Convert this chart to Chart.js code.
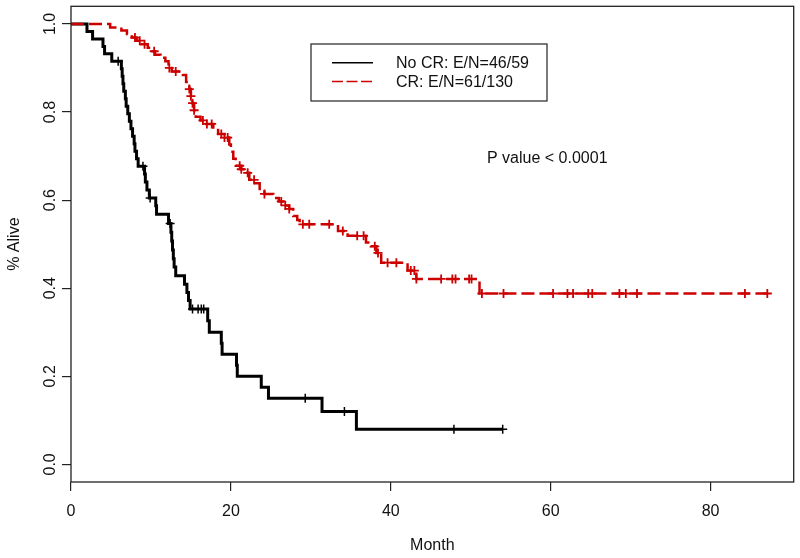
<!DOCTYPE html>
<html>
<head>
<meta charset="utf-8">
<script src="https://cdn.jsdelivr.net/npm/chart.js@4.4.1/dist/chart.umd.min.js"></script>
<style>
  html, body { margin: 0; padding: 0; background: #fff; }
  #km { display: block; }
</style>
</head>
<body>
<canvas id="km" width="800" height="558"></canvas>
<script>
// No CR group: event times (months) and survival right after each step
var noCrTimes = [0, 2.0, 2.7, 4.0, 4.2, 5.1, 6.3, 6.4, 6.5, 6.6, 6.8, 6.9, 7.1, 7.3, 7.5, 7.7, 7.9, 8.0, 8.2, 8.4,
  9.2, 9.3, 9.5, 9.8, 10.6, 10.7, 12.2, 12.5, 12.6, 12.7, 12.8, 12.9, 13.1, 14.2, 14.5, 14.7, 14.9,
  17.1, 17.3, 18.8, 18.9, 20.7, 20.8, 23.8, 24.7, 31.4, 35.7, 54.0];
var noCrSurv = [1, 0.983, 0.966, 0.949, 0.932, 0.915, 0.898, 0.881, 0.864, 0.847, 0.830, 0.813, 0.796, 0.779, 0.762, 0.745, 0.728, 0.711, 0.694, 0.677,
  0.659, 0.641, 0.623, 0.605, 0.587, 0.568, 0.547, 0.527, 0.507, 0.487, 0.467, 0.448, 0.428, 0.409, 0.390, 0.372, 0.353,
  0.326, 0.300, 0.275, 0.250, 0.225, 0.200, 0.175, 0.150, 0.120, 0.080, 0.080];
var noCrCensor = [5.9, 9.0, 9.9, 12.4, 15.2, 15.9, 16.3, 16.6, 29.3, 34.2, 47.9, 54.0];

// CR group
var crTimes = [0, 4.9, 6.3, 7.0, 7.6, 8.2, 8.8, 9.6, 10.2, 10.5, 11.2, 11.8, 12.2, 12.6, 14.0, 14.4, 14.8, 15.0, 15.2, 15.4, 15.6,
  16.2, 16.6, 17.8, 18.4, 19.2, 19.8, 20.0, 20.3, 20.6, 21.3, 21.8, 22.3, 23.0, 23.6, 24.2, 25.3, 26.0, 26.8, 27.3, 27.8, 28.3, 28.6,
  33.4, 34.6, 36.9, 37.5, 38.2, 38.8, 42.1, 43.2, 51.1, 87.1];
var crSurv = [1, 0.992, 0.985, 0.977, 0.969, 0.962, 0.954, 0.946, 0.938, 0.930, 0.923, 0.915, 0.900, 0.892, 0.884, 0.868, 0.852, 0.836, 0.820, 0.804, 0.789,
  0.781, 0.773, 0.765, 0.750, 0.742, 0.726, 0.710, 0.694, 0.678, 0.670, 0.662, 0.646, 0.638, 0.622, 0.614, 0.605, 0.597, 0.588, 0.580, 0.564, 0.555, 0.545,
  0.530, 0.519, 0.504, 0.495, 0.480, 0.458, 0.440, 0.421, 0.388, 0.388];
var crCensor = [8.0, 8.6, 9.2, 10.4, 12.3, 13.1, 14.8, 15.0, 15.2, 15.4, 16.5, 17.0, 17.6, 18.8, 19.2, 19.6, 21.1, 21.3, 22.1, 22.9,
  24.2, 26.3, 26.8, 27.3, 29.0, 29.8, 32.3, 34.0, 35.8, 36.6, 38.0, 38.4, 39.6, 40.7, 42.5, 42.95, 43.2, 46.3, 47.7, 48.1,
  49.8, 50.1, 51.4, 54.1, 60.3, 62.1, 62.8, 64.7, 65.2, 68.6, 69.4, 70.8, 84.3, 87.1];

var xTicks = [0, 20, 40, 60, 80];
var yTicks = [0, 0.2, 0.4, 0.6, 0.8, 1.0];
var legendLabels = ['No CR: E/N=46/59', 'CR: E/N=61/130'];
var pValueText = 'P value < 0.0001';

var FONT = "'Liberation Sans', Arial, Helvetica, sans-serif";
var RED = '#CD0000';

function stepPoints(times, surv) {
  return times.map(function (t, i) { return { x: t, y: surv[i] }; });
}

function survAt(times, surv, t) {
  var s = surv[0];
  for (var i = 0; i < times.length; i++) {
    if (times[i] <= t) s = surv[i];
  }
  return s;
}

function censorPoints(censor, times, surv) {
  return censor.map(function (t) { return { x: t, y: survAt(times, surv, t) }; });
}

var framePlugin = {
  id: 'frame',
  afterDraw: function (chart) {
    var ctx = chart.ctx;
    var a = chart.chartArea;
    ctx.save();
    ctx.strokeStyle = '#222';
    ctx.lineWidth = 1.3;
    ctx.strokeRect(a.left, a.top, a.right - a.left, a.bottom - a.top);

    // legend box
    ctx.lineWidth = 1.2;
    ctx.strokeRect(311, 44, 236, 57);
    ctx.lineWidth = 1.5;
    ctx.strokeStyle = '#000';
    ctx.beginPath(); ctx.moveTo(332, 62.7); ctx.lineTo(373, 62.7); ctx.stroke();
    ctx.strokeStyle = RED;
    ctx.setLineDash([11, 3.5]);
    ctx.beginPath(); ctx.moveTo(332, 81.5); ctx.lineTo(373, 81.5); ctx.stroke();
    ctx.setLineDash([]);

    ctx.fillStyle = '#111';
    ctx.font = '16px ' + FONT;
    ctx.textBaseline = 'middle';
    ctx.textAlign = 'left';
    ctx.fillText(legendLabels[0], 396, 63.5);
    ctx.fillText(legendLabels[1], 396, 82.3);
    ctx.fillText(pValueText, 487, 158.5);
    ctx.restore();
  }
};

var tickGrid = { drawOnChartArea: false, drawTicks: true, tickLength: 9, color: '#222', lineWidth: 1.2 };

new Chart(document.getElementById('km'), {
  type: 'scatter',
  data: {
    datasets: [
      {
        type: 'line',
        data: stepPoints(crTimes, crSurv),
        stepped: 'before',
        borderColor: RED,
        borderWidth: 2.5,
        borderDash: [13, 5],
        pointRadius: 0,
        fill: false
      },
      {
        data: censorPoints(crCensor, crTimes, crSurv),
        pointStyle: 'cross',
        pointRadius: 4.5,
        borderColor: RED,
        borderWidth: 1.8,
        showLine: false
      },
      {
        type: 'line',
        data: stepPoints(noCrTimes, noCrSurv),
        stepped: 'before',
        borderColor: '#000',
        borderWidth: 3,
        pointRadius: 0,
        fill: false
      },
      {
        data: censorPoints(noCrCensor, noCrTimes, noCrSurv),
        pointStyle: 'cross',
        pointRadius: 4.5,
        borderColor: '#000',
        borderWidth: 1.5,
        showLine: false
      }
    ]
  },
  options: {
    responsive: false,
    animation: false,
    devicePixelRatio: 1,
    layout: { padding: { top: 4, right: 5, left: 0, bottom: 0 } },
    plugins: {
      legend: { display: false },
      tooltip: { enabled: false }
    },
    scales: {
      x: {
        type: 'linear',
        min: 0,
        max: 90.4,
        afterBuildTicks: function (s) { s.ticks = xTicks.map(function (v) { return { value: v }; }); },
        afterFit: function (s) { s.height = 76; s.paddingLeft = 0; s.paddingRight = 0; },
        grid: tickGrid,
        border: { display: false },
        ticks: { padding: 11, maxRotation: 0, color: '#111', font: { size: 16, family: FONT } },
        title: { display: true, text: 'Month', color: '#111', font: { size: 16, family: FONT }, padding: { top: 0, bottom: 3 } }
      },
      y: {
        type: 'linear',
        min: -0.04,
        max: 1.04,
        afterBuildTicks: function (s) { s.ticks = yTicks.map(function (v) { return { value: v }; }); },
        afterFit: function (s) { s.width = 71; s.paddingTop = 0; s.paddingBottom = 0; },
        grid: tickGrid,
        border: { display: false },
        ticks: {
          padding: 0, minRotation: 90, maxRotation: 90, crossAlign: 'center', color: '#111',
          font: { size: 16, family: FONT },
          callback: function (v) { return v.toFixed(1); }
        },
        title: { display: true, text: '% Alive', color: '#111', font: { size: 16, family: FONT }, padding: { top: 5, bottom: 0 } }
      }
    }
  },
  plugins: [framePlugin]
});
</script>
</body>
</html>
